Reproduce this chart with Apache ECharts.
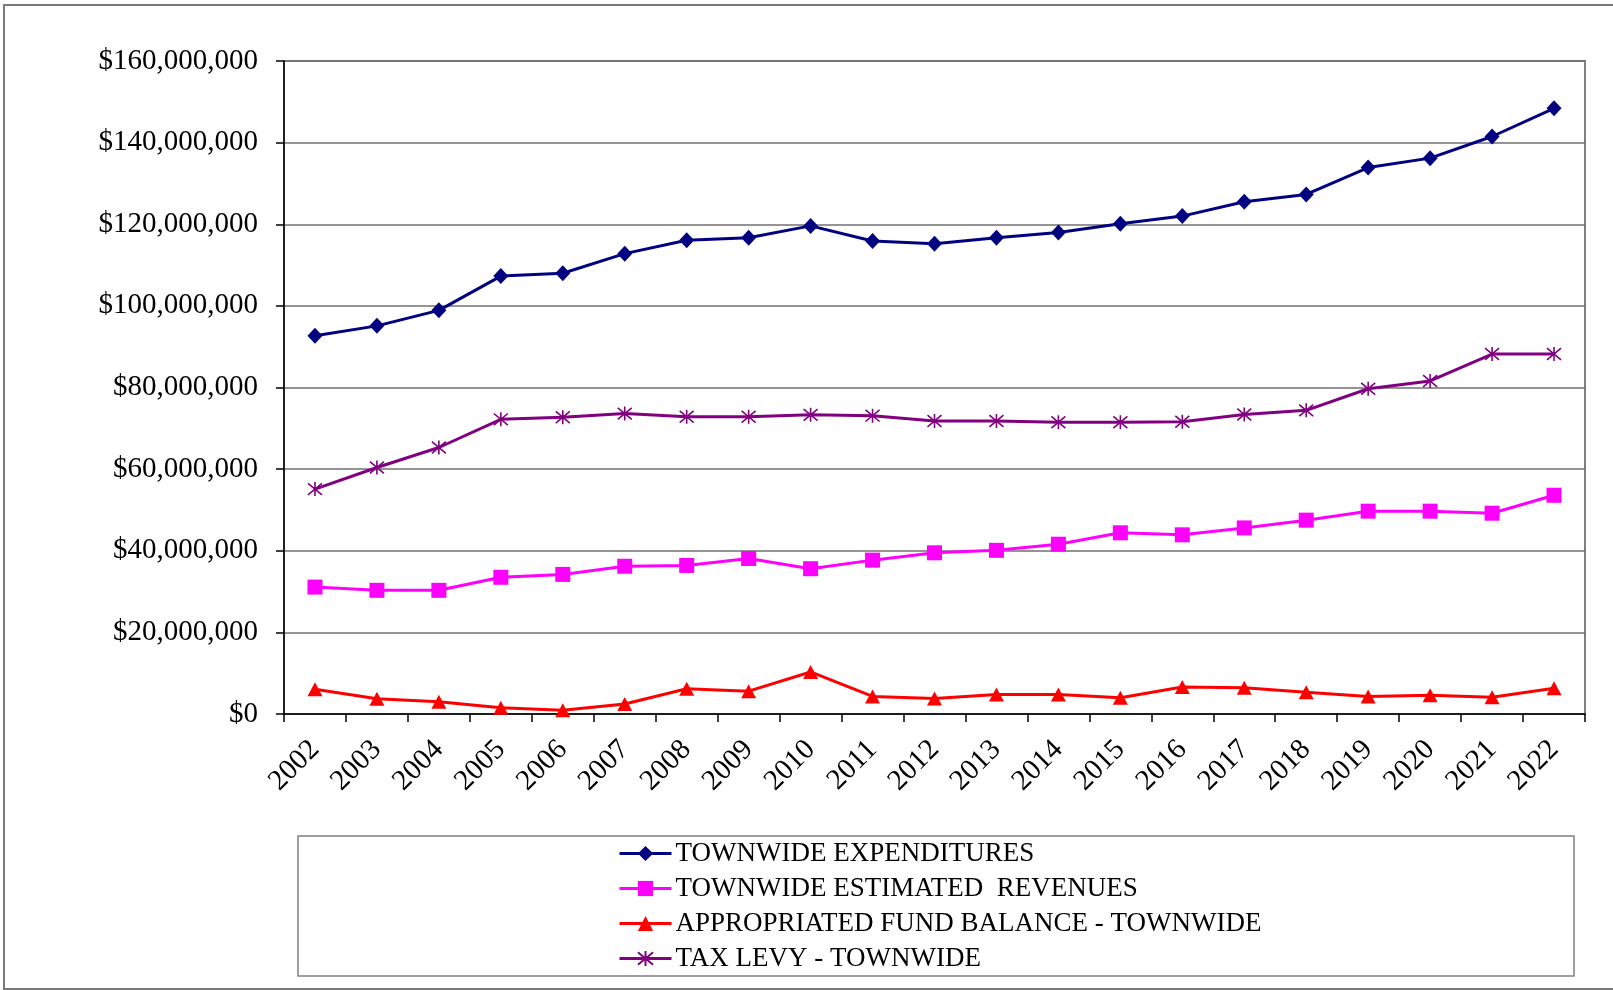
<!DOCTYPE html>
<html>
<head>
<meta charset="utf-8">
<script src="https://cdn.jsdelivr.net/npm/echarts@6/dist/echarts.min.js"></script>
<style>
  html, body { margin: 0; padding: 0; background: #ffffff; }
  #chart { width: 1613px; height: 990px; }
</style>
</head>
<body>
<div id="chart"></div>
<script>
// Fiscal years on the category axis
const years = ['2002', '2003', '2004', '2005', '2006', '2007', '2008', '2009', '2010', '2011',
  '2012', '2013', '2014', '2015', '2016', '2017', '2018', '2019', '2020', '2021', '2022'];

// Dollar amounts per year
const expenditures = [92700000, 95100000, 98900000, 107300000, 108000000, 112800000, 116100000,
  116700000, 119600000, 115900000, 115200000, 116700000, 118000000, 120100000, 122000000,
  125500000, 127300000, 133900000, 136200000, 141500000, 148400000];
const estimatedRevenues = [31100000, 30300000, 30300000, 33500000, 34200000, 36200000, 36400000,
  38100000, 35600000, 37700000, 39500000, 40100000, 41600000, 44400000, 43900000,
  45600000, 47500000, 49700000, 49700000, 49200000, 53600000];
const fundBalance = [6050000, 3750000, 3000000, 1550000, 900000, 2450000, 6200000,
  5600000, 10300000, 4300000, 3800000, 4800000, 4800000, 4000000, 6600000,
  6450000, 5300000, 4300000, 4600000, 4100000, 6300000];
const taxLevy = [55100000, 60400000, 65300000, 72200000, 72700000, 73600000, 72850000,
  72850000, 73300000, 73100000, 71800000, 71800000, 71500000, 71500000, 71600000,
  73400000, 74400000, 79700000, 81600000, 88200000, 88200000];

// Series names as shown in the legend
const seriesNames = [
  'TOWNWIDE EXPENDITURES',
  'TOWNWIDE ESTIMATED  REVENUES',
  'APPROPRIATED FUND BALANCE - TOWNWIDE',
  'TAX LEVY - TOWNWIDE'
];

// Y axis ticks
const yMin = 0;
const yMax = 160000000;
const yStep = 20000000;

const FONT = "'Liberation Serif', 'Times New Roman', serif";
// Six-armed asterisk marker (stroke only)
const asterisk = 'path://M0,0 L10,10 M10,0 L0,10 M5,-1 L5,11';

function money(v) {
  return '$' + Math.round(v).toString().replace(/\B(?=(\d{3})+(?!\d))/g, ',');
}

const chart = echarts.init(document.getElementById('chart'), null, { renderer: 'canvas' });

function lineSeries(name, data, color, symbol, size, extraItem) {
  return {
    name: name,
    type: 'line',
    data: data,
    symbol: symbol,
    symbolSize: size,
    showAllSymbol: true,
    lineStyle: { color: color, width: 3 },
    itemStyle: Object.assign({ color: color }, extraItem || {}),
    emphasis: { disabled: true },
    animation: false
  };
}

chart.setOption({
  backgroundColor: '#ffffff',
  animation: false,
  textStyle: { fontFamily: FONT },
  grid: {
    left: 284, right: 28, top: 61, bottom: 276,
    show: true, borderColor: '#808080', borderWidth: 2, backgroundColor: 'transparent'
  },
  xAxis: {
    type: 'category',
    data: years,
    boundaryGap: true,
    axisLine: { lineStyle: { color: '#000000', width: 1.5 } },
    axisTick: { show: true, length: 8, inside: false, lineStyle: { color: '#000000', width: 1.5 } },
    axisLabel: {
      rotate: 45, interval: 0, margin: 31,
      color: '#000000', fontFamily: FONT, fontSize: 29
    },
    splitLine: { show: false }
  },
  yAxis: {
    type: 'value',
    min: yMin, max: yMax, interval: yStep,
    axisLine: { show: true, lineStyle: { color: '#000000', width: 1.5 } },
    axisTick: { show: true, length: 8, inside: false, lineStyle: { color: '#000000', width: 1.5 } },
    axisLabel: {
      margin: 26, color: '#000000', fontFamily: FONT, fontSize: 29,
      formatter: money
    },
    splitLine: { show: true, lineStyle: { color: '#707070', width: 1.5 } }
  },
  legend: {
    orient: 'vertical',
    left: 618, top: 836,
    itemWidth: 52, itemHeight: 19, itemGap: 0,
    padding: 0,
    data: seriesNames,
    lineStyle: { width: 3 },
    textStyle: { fontFamily: FONT, fontSize: 27, color: '#000000', lineHeight: 35, padding: [0, 0, 0, -1] },
    selectedMode: false
  },
  graphic: [
    {
      type: 'rect', silent: true, z: -1,
      shape: { x: 4, y: 5, width: 1640, height: 984 },
      style: { fill: 'none', stroke: '#7a7a7a', lineWidth: 2 }
    },
    {
      type: 'rect', silent: true, z: -1,
      shape: { x: 298, y: 836, width: 1276, height: 140 },
      style: { fill: 'none', stroke: '#808080', lineWidth: 1.5 }
    }
  ],
  series: [
    lineSeries(seriesNames[0], expenditures, '#000080', 'diamond', [15, 16]),
    lineSeries(seriesNames[1], estimatedRevenues, '#FF00FF', 'rect', 15),
    lineSeries(seriesNames[2], fundBalance, '#FF0000', 'triangle', [15, 14]),
    lineSeries(seriesNames[3], taxLevy, '#800080', asterisk, 14,
      { color: 'none', borderColor: '#800080', borderWidth: 1.6 })
  ]
});
</script>
</body>
</html>
